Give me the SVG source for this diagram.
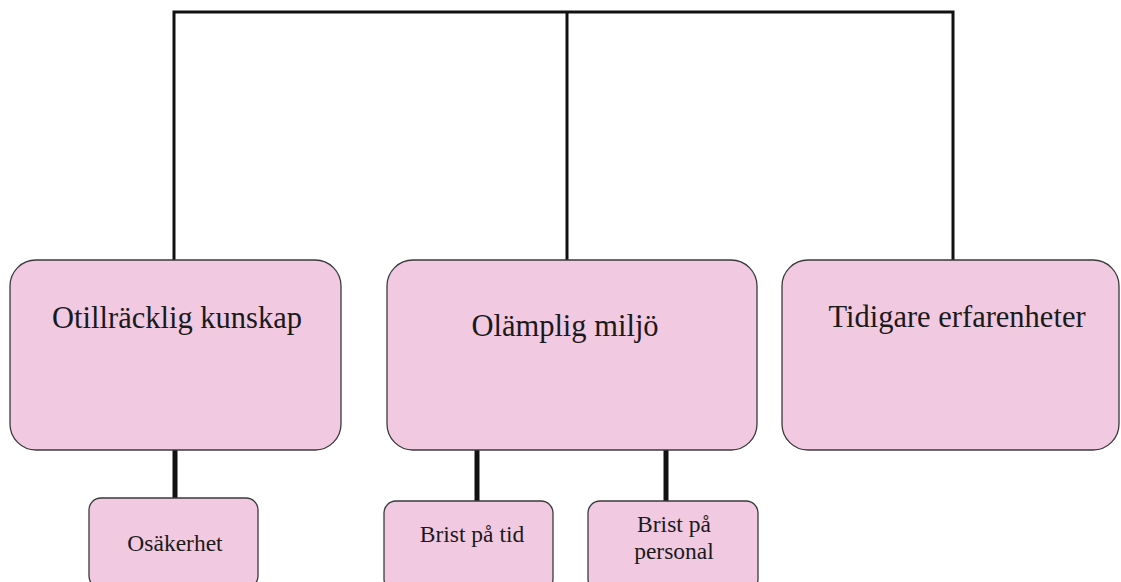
<svg xmlns="http://www.w3.org/2000/svg" width="1121" height="582" viewBox="0 0 1121 582">
<style>
.box{fill:#f1c9e1;stroke:#3a3a3a;stroke-width:1.3}
.t{font-family:"Liberation Serif","Times New Roman",serif;fill:#1a1a1a;text-anchor:middle}
.big{font-size:30.5px}
.small{font-size:23.5px}
.c1{fill:none;stroke:#111;stroke-width:3}
.c2{fill:none;stroke:#111;stroke-width:5}
</style>
<rect x="0" y="0" width="1121" height="582" fill="#ffffff"/>
<g id="connectors">
<path class="c1" d="M174,260 V12 H953 V260"/>
<path class="c1" d="M567,12 V260"/>
<path class="c2" d="M175,450 V498"/>
<path class="c2" d="M477,450 V501"/>
<path class="c2" d="M666,450 V501"/>
</g>
<g id="node-otillracklig">
<rect class="box" x="10" y="260" width="331" height="190" rx="26"/>
<text class="t big" x="177" y="328">Otillräcklig kunskap</text>
</g>
<g id="node-olamplig">
<rect class="box" x="387" y="260" width="370" height="190" rx="26"/>
<text class="t big" x="565" y="336">Olämplig miljö</text>
</g>
<g id="node-tidigare">
<rect class="box" x="782" y="260" width="337" height="190" rx="26"/>
<text class="t big" x="957" y="327">Tidigare erfarenheter</text>
</g>
<g id="node-osakerhet">
<rect class="box" x="89" y="498" width="169" height="90" rx="12"/>
<text class="t small" x="175" y="551">Osäkerhet</text>
</g>
<g id="node-brist-tid">
<rect class="box" x="384" y="501" width="169" height="90" rx="12"/>
<text class="t small" x="472" y="542">Brist på tid</text>
</g>
<g id="node-brist-personal">
<rect class="box" x="588" y="501" width="170" height="90" rx="12"/>
<text class="t small" x="674" y="532">Brist på</text>
<text class="t small" x="674" y="559">personal</text>
</g>
</svg>
